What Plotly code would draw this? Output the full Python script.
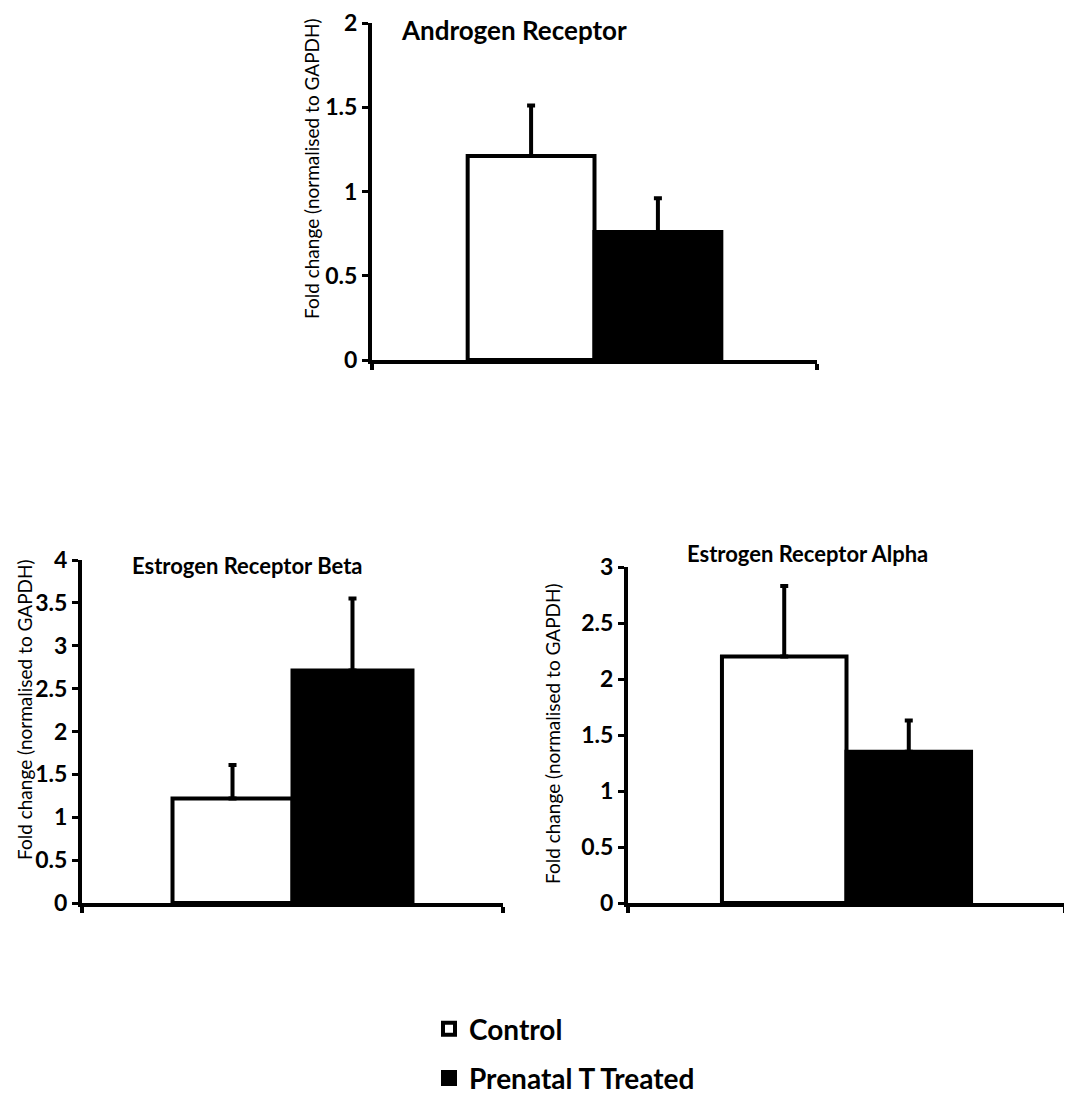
import plotly.graph_objects as go

# ---- data ----
group = ["Receptor"]
series = ["Control", "Prenatal T Treated"]
panels = ["Androgen Receptor", "Estrogen Receptor Beta", "Estrogen Receptor Alpha"]

ar_values = [1.21, 0.76]
ar_errors = [0.30, 0.20]
erb_values = [1.22, 2.71]
erb_errors = [0.39, 0.84]
era_values = [2.20, 1.35]
era_errors = [0.63, 0.28]

y_ranges = [[0, 2], [0, 4], [0, 3]]
y_title = "Fold change (normalised to GAPDH)"

fills = ["white", "black"]
W, H = 1072, 1101
FONT = "Lato"
OFF = 8  # page body margin

def px_x(p):
    return (p - OFF) / W

def px_y(p):
    return 1 - (p - OFF) / H

fig = go.Figure()

panel_data = [(ar_values, ar_errors), (erb_values, erb_errors), (era_values, era_errors)]
axis_names = [("x", "y"), ("x2", "y2"), ("x3", "y3")]

for pi, (vals, errs) in enumerate(panel_data):
    xa, ya = axis_names[pi]
    for si, name in enumerate(series):
        fig.add_trace(go.Bar(
            x=group, y=[vals[si]], name=name,
            legendgroup=name, showlegend=(pi == 0),
            marker=dict(color=fills[si], line=dict(color="black", width=4)),
            error_y=dict(type="data", array=[errs[si]], arrayminus=[0], symmetric=False,
                         color="black", thickness=4, width=4),
            xaxis=xa, yaxis=ya,
        ))

# panel pixel boxes: (left, right, top, bottom)
boxes = [(372, 817, 23, 360), (82, 503, 560, 903), (628, 1065, 567, 903)]

common_x = dict(type="category", showticklabels=False, ticks="outside", tickson="boundaries",
                ticklen=6, tickwidth=4, tickcolor="black", showline=True, linewidth=4,
                linecolor="black", showgrid=False, zeroline=False, fixedrange=True)
common_y = dict(ticks="outside", ticklen=6, tickwidth=3, tickcolor="black", showline=True,
                linewidth=4, linecolor="black", showgrid=False, zeroline=False, dtick=0.5,
                ticklabeloverflow="allow",
                tickfont=dict(family=FONT, size=23, color="black", weight="bold"))

layout = dict(
    width=W, height=H, margin=dict(l=0, r=0, t=0, b=0, autoexpand=False),
    paper_bgcolor="white", plot_bgcolor="white",
    barmode="group", bargap=0.43, bargroupgap=0,
    font=dict(family=FONT, color="black"),
    legend=dict(x=px_x(429), y=px_y(1004), xanchor="left", yanchor="top",
                font=dict(family=FONT, size=28, color="black", weight="bold"),
                bgcolor="rgba(0,0,0,0)", tracegroupgap=10, orientation="v"),
)
for i, (l, r, t, b) in enumerate(boxes):
    sx = "" if i == 0 else str(i + 1)
    layout["xaxis" + sx] = dict(common_x, domain=[px_x(l), px_x(r)], anchor="y" + sx)
    layout["yaxis" + sx] = dict(common_y, domain=[px_y(b), px_y(t)], anchor="x" + sx,
                                range=y_ranges[i])
fig.update_layout(**layout)

# panel titles and y-axis titles
title_pos = [(514, 30), (247, 565), (807, 553)]
title_size = [26, 22, 22]
ytitle_pos = [(311, 169), (24, 710), (552, 734)]
for i in range(3):
    fig.add_annotation(text=panels[i], xref="paper", yref="paper",
                       x=px_x(title_pos[i][0]), y=px_y(title_pos[i][1]),
                       xanchor="center", yanchor="middle", showarrow=False,
                       font=dict(family=FONT, size=title_size[i], color="black", weight="bold"))
    fig.add_annotation(text=y_title, xref="paper", yref="paper", textangle=-90,
                       x=px_x(ytitle_pos[i][0]), y=px_y(ytitle_pos[i][1]),
                       xanchor="center", yanchor="middle", showarrow=False,
                       font=dict(family=FONT, size=19, color="black"))

fig.write_html("out.html")
